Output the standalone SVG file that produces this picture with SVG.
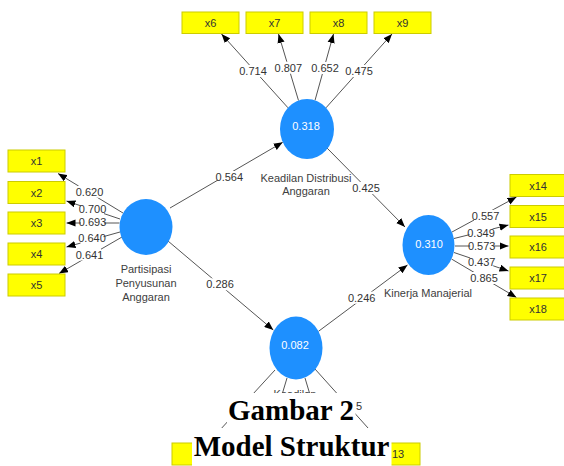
<svg xmlns="http://www.w3.org/2000/svg" width="564" height="466" viewBox="0 0 564 466">
<style>
.ln{stroke:#555;stroke-width:1;fill:none;marker-end:url(#ah)}
.lb{fill:#fff}
.lt{font-family:"Liberation Sans Narrow","Liberation Sans",Arial,sans-serif;font-size:11px;fill:#333;text-anchor:middle}
.box{fill:#ffff00;stroke:#cccc00;stroke-width:1}
.bt{font-family:"Liberation Sans Narrow","Liberation Sans",Arial,sans-serif;font-size:11px;fill:#333;text-anchor:middle}
.lv{fill:#1e90ff}
.vt{font-family:"Liberation Sans Narrow","Liberation Sans",Arial,sans-serif;font-size:11px;fill:#fff;text-anchor:middle}
.nt{font-family:"Liberation Sans Narrow","Liberation Sans",Arial,sans-serif;font-size:11px;fill:#404040;text-anchor:middle}
.cap{font-family:"Liberation Serif","Times New Roman",serif;font-weight:bold;font-size:29px;fill:#000;text-anchor:middle}
</style>
<defs>
<marker id="ah" viewBox="0 0 10 8" refX="10" refY="4" markerWidth="9" markerHeight="7.5" orient="auto" markerUnits="userSpaceOnUse"><path d="M0,0 L10,4 L0,8 z" fill="#000"/></marker>
</defs>
<rect width="564" height="466" fill="#fff"/>
<g id="connectors">
<line class="ln" x1="123" y1="213" x2="58" y2="173.5"/>
<line class="ln" x1="120" y1="219" x2="66.5" y2="201"/>
<line class="ln" x1="119.5" y1="223" x2="66.5" y2="223"/>
<line class="ln" x1="120" y1="232" x2="66.5" y2="247"/>
<line class="ln" x1="122" y1="237" x2="59" y2="273.5"/>
<line class="ln" x1="288" y1="107.8" x2="221.5" y2="34"/>
<line class="ln" x1="298.5" y1="100.5" x2="278.5" y2="34"/>
<line class="ln" x1="315" y1="100.4" x2="333.5" y2="34"/>
<line class="ln" x1="326" y1="107.8" x2="392" y2="34"/>
<line class="ln" x1="452" y1="232" x2="516.5" y2="197"/>
<line class="ln" x1="454" y1="238.5" x2="508.5" y2="225"/>
<line class="ln" x1="455" y1="246" x2="508.5" y2="246"/>
<line class="ln" x1="454" y1="252.5" x2="508.5" y2="271"/>
<line class="ln" x1="451.5" y1="259" x2="516.5" y2="297.5"/>
<line class="ln" x1="275" y1="370" x2="208" y2="443"/>
<line class="ln" x1="287" y1="378" x2="267.5" y2="443"/>
<line class="ln" x1="305" y1="378" x2="324.5" y2="443"/>
<line class="ln" x1="315" y1="369" x2="381.5" y2="443"/>
<line class="ln" x1="170" y1="208" x2="282.7" y2="142.3"/>
<line class="ln" x1="327" y1="148" x2="405" y2="227"/>
<line class="ln" x1="168" y1="241" x2="273.3" y2="330"/>
<line class="ln" x1="318.5" y1="331.3" x2="407.5" y2="265"/>
<rect class="lb" x="241.5" y="65" width="23" height="12"/>
<rect class="lb" x="276.8" y="61.7" width="23" height="12"/>
<rect class="lb" x="313.5" y="62" width="23" height="12"/>
<rect class="lb" x="347.5" y="65" width="23" height="12"/>
<rect class="lb" x="78" y="185.7" width="23" height="12"/>
<rect class="lb" x="81" y="202.5" width="23" height="12"/>
<rect class="lb" x="81" y="216" width="23" height="12"/>
<rect class="lb" x="80.5" y="232" width="23" height="12"/>
<rect class="lb" x="78" y="248.5" width="23" height="12"/>
<rect class="lb" x="474" y="209.8" width="23" height="12"/>
<rect class="lb" x="469.5" y="226.5" width="23" height="12"/>
<rect class="lb" x="470.2" y="240" width="23" height="12"/>
<rect class="lb" x="470.2" y="255.5" width="23" height="12"/>
<rect class="lb" x="472.5" y="272" width="23" height="12"/>
<rect class="lb" x="217.8" y="171" width="23" height="12"/>
<rect class="lb" x="354.5" y="182" width="23" height="12"/>
<rect class="lb" x="208.5" y="278.3" width="23" height="12"/>
<rect class="lb" x="350.2" y="291.7" width="23" height="12"/>
<rect class="lb" x="337" y="400" width="23" height="12"/>
<text class="lt" x="253" y="75">0.714</text>
<text class="lt" x="288.3" y="71.7">0.807</text>
<text class="lt" x="325" y="72">0.652</text>
<text class="lt" x="359" y="75">0.475</text>
<text class="lt" x="89.5" y="195.7">0.620</text>
<text class="lt" x="92.5" y="212.5">0.700</text>
<text class="lt" x="92.5" y="226">0.693</text>
<text class="lt" x="92" y="242">0.640</text>
<text class="lt" x="89.5" y="258.5">0.641</text>
<text class="lt" x="485.5" y="219.8">0.557</text>
<text class="lt" x="481" y="236.5">0.349</text>
<text class="lt" x="481.7" y="250">0.573</text>
<text class="lt" x="481.7" y="265.5">0.437</text>
<text class="lt" x="484" y="282">0.865</text>
<text class="lt" x="229.3" y="181">0.564</text>
<text class="lt" x="366" y="192">0.425</text>
<text class="lt" x="220" y="288.3">0.286</text>
<text class="lt" x="361.7" y="301.7">0.246</text>
<text class="lt" x="356" y="410" style="text-anchor:start">5</text>
</g>
<g id="x1"><rect class="box" x="8" y="150" width="57" height="22"/><text class="bt" x="36.5" y="165">x1</text></g>
<g id="x2"><rect class="box" x="8" y="181.5" width="57" height="22"/><text class="bt" x="36.5" y="196.5">x2</text></g>
<g id="x3"><rect class="box" x="8" y="212" width="57" height="22"/><text class="bt" x="36.5" y="227">x3</text></g>
<g id="x4"><rect class="box" x="8" y="243" width="57" height="22"/><text class="bt" x="36.5" y="258">x4</text></g>
<g id="x5"><rect class="box" x="8" y="274" width="57" height="22"/><text class="bt" x="36.5" y="289">x5</text></g>
<g id="x6"><rect class="box" x="182" y="12" width="57" height="21.5"/><text class="bt" x="210.5" y="26.8">x6</text></g>
<g id="x7"><rect class="box" x="246" y="12" width="57" height="21.5"/><text class="bt" x="274.5" y="26.8">x7</text></g>
<g id="x8"><rect class="box" x="310" y="12" width="57" height="21.5"/><text class="bt" x="338.5" y="26.8">x8</text></g>
<g id="x9"><rect class="box" x="374" y="12" width="57" height="21.5"/><text class="bt" x="402.5" y="26.8">x9</text></g>
<g id="x14"><rect class="box" x="510" y="174.5" width="57" height="22"/><text class="bt" x="538" y="189.5">x14</text></g>
<g id="x15"><rect class="box" x="510" y="205.5" width="57" height="22"/><text class="bt" x="538" y="220.5">x15</text></g>
<g id="x16"><rect class="box" x="510" y="236" width="57" height="22"/><text class="bt" x="538" y="251">x16</text></g>
<g id="x17"><rect class="box" x="510" y="267" width="57" height="22"/><text class="bt" x="538" y="282">x17</text></g>
<g id="x18"><rect class="box" x="510" y="298" width="57" height="22"/><text class="bt" x="538" y="313">x18</text></g>
<g id="x10"><rect class="box" x="172" y="443" width="56" height="22"/></g>
<g id="x11"><rect class="box" x="236" y="443" width="56" height="22"/></g>
<g id="x12"><rect class="box" x="300" y="443" width="56" height="22"/></g>
<g id="x13"><rect class="box" x="364" y="443" width="56" height="22"/><text class="bt" x="392" y="458" style="text-anchor:start">13</text></g>
<g id="partisipasi">
<ellipse class="lv" cx="146" cy="227" rx="26.5" ry="28"/>
<text class="nt" x="146" y="273">Partisipasi</text>
<text class="nt" x="146" y="287">Penyusunan</text>
<text class="nt" x="146" y="300.5">Anggaran</text>
</g>
<g id="keadilan-distribusi">
<ellipse class="lv" cx="307" cy="129" rx="27" ry="30"/>
<text class="vt" x="306" y="130">0.318</text>
<text class="nt" x="306" y="181.5">Keadilan Distribusi</text>
<text class="nt" x="306" y="194.5">Anggaran</text>
</g>
<g id="kinerja">
<ellipse class="lv" cx="428.5" cy="245" rx="26" ry="30"/>
<text class="vt" x="429" y="247.5">0.310</text>
<text class="nt" x="428" y="297">Kinerja Manajerial</text>
</g>
<g id="keadilan-bawah">
<ellipse class="lv" cx="296" cy="348" rx="26.5" ry="31.5"/>
<text class="vt" x="295" y="348.5">0.082</text>
<text class="nt" x="295" y="397.5">Keadilan</text>
</g>
<g id="caption">
<rect x="227" y="393" width="128.5" height="35" fill="#fff"/>
<rect x="192" y="428" width="199.5" height="38" fill="#fff"/>
<text class="cap" x="291" y="420">Gambar 2</text>
<text class="cap" x="291.5" y="456">Model Struktur</text>
</g>
</svg>
